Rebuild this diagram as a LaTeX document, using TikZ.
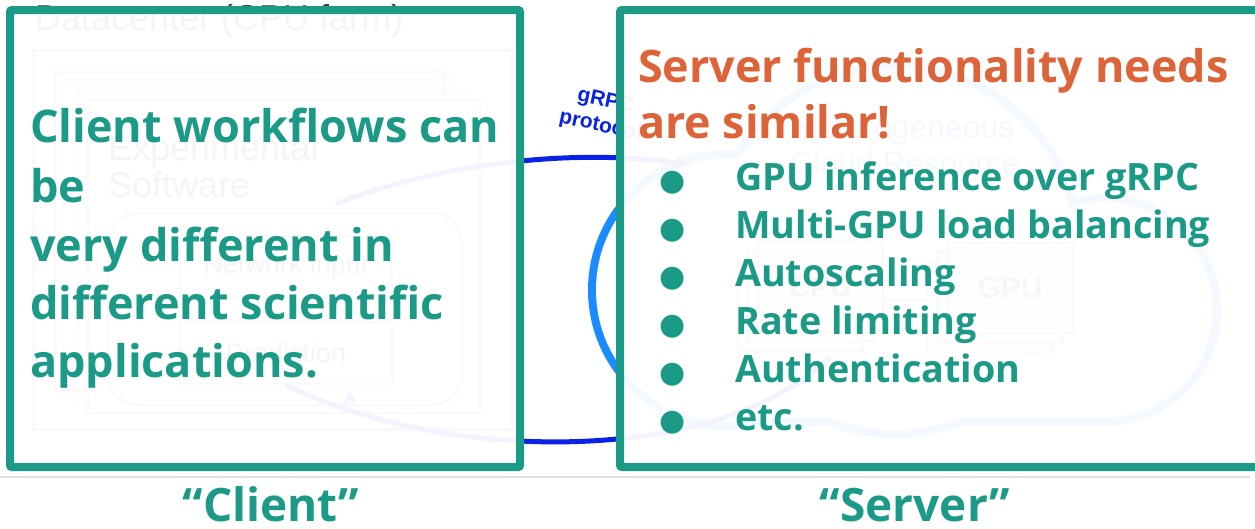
\documentclass[tikz,border=0pt]{standalone}
\usepackage{fontspec}
\setmainfont{Open Sans}
\newfontfamily\helv{Liberation Sans}
\newfontfamily\symf{DejaVu Sans}
\usetikzlibrary{arrows.meta}
\definecolor{tealc}{HTML}{1B9A87}
\definecolor{orangec}{HTML}{DD6438}
\definecolor{dkblue}{HTML}{0A22E6}
\definecolor{ltblue}{HTML}{1A8CFF}
\definecolor{pinkc}{HTML}{E08080}
\begin{document}
\begin{tikzpicture}[x=1pt,y=-1pt,
  bgtxt/.style={inner sep=0pt, text=black!75, font=\helv\fontsize{36}{36}\selectfont},
  smallbox/.style={draw=black!45, line width=2pt, fill=white, minimum width=212pt, minimum height=62pt, inner sep=0pt, font=\helv\fontsize{27}{27}\selectfont, text=black!75},
  chip/.style={draw=pinkc, line width=2pt, fill=red!6, minimum width=125pt, minimum height=90pt, inner sep=0pt},
  chiptxt/.style={font=\helv\bfseries\fontsize{30}{30}\selectfont, text=pinkc!70!black},
  panel/.style={draw=tealc, line width=8pt, fill=white, fill opacity=0.95, rounded corners=2pt, inner sep=0pt},
  clienttxt/.style={anchor=base west, inner sep=0pt, text=tealc, font=\bfseries\fontsize{45}{45}\selectfont},
  headtxt/.style={anchor=base west, inner sep=0pt, text=orangec, font=\bfseries\fontsize{44.9}{44.9}\selectfont},
  itemtxt/.style={anchor=base west, inner sep=0pt, text=tealc, font=\bfseries\fontsize{37.7}{37.7}\selectfont},
  dot/.style={anchor=base, inner sep=0pt, text=tealc, font=\symf\fontsize{30}{30}\selectfont},
  caption/.style={anchor=base, inner sep=0pt, text=tealc, font=\bfseries\fontsize{46}{46}\selectfont}]
\useasboundingbox (0,0) rectangle (1255,528);
\fill[white] (0,0) rectangle (1255,528);

% ---- client side sketch: datacenter with experimental software
\node[bgtxt, anchor=base west] (dctitle) at (35,30) {Datacenter (CPU farm)};
\draw[black!40, line width=3pt] (33,50) rectangle (512,429);
\draw[pinkc, line width=2pt] (55,72) rectangle (445,390);
\draw[pinkc, line width=2pt, dotted] (63,80) rectangle (455,398);
\draw[pinkc, line width=2pt, dotted] (78,90) rectangle (468,405);
\draw[pinkc, line width=2pt, fill=white] (88,100) rectangle (480,413);
\node[bgtxt, anchor=base west] (exptxt1) at (108,160) {Experimental};
\node[bgtxt, anchor=base west] (exptxt2) at (108,197) {Software};
\draw[black!40, line width=2pt, rounded corners=30pt] (108,213) rectangle (462,405);
\node[smallbox] (netin) at (286,267) {Network input};
\node[smallbox] (pred) at (286,353) {Prediction};

% ---- server side sketch: cloud with CPU and GPU
\begin{scope}
  \draw[ltblue, line width=16pt]
    (728,290) circle[radius=132pt]
    (895,250) circle[radius=180pt]
    (1105,310) circle[radius=108pt]
    (728,290) rectangle (1105,418);
  \fill[white]
    (728,290) circle[radius=132pt]
    (895,250) circle[radius=180pt]
    (1105,310) circle[radius=108pt]
    (728,290) rectangle (1105,418);
\end{scope}
\node[font=\helv\fontsize{32}{36}\selectfont, text=ltblue, align=center] (cloudtxt) at (905,146) {Heterogeneous\\Cloud Resource};
\node[chip] (cpu3) at (800,306) {};
\node[chip] (cpu2) at (810,296) {};
\node[chip] (cpu1) at (820,287) {};
\node[chiptxt] (cputxt) at (cpu1) {CPU};
\node[chip] (gpu3) at (990,307) {};
\node[chip] (gpu2) at (1000,297) {};
\node[chip] (gpu1) at (1010,288) {};
\node[chiptxt] (gputxt) at (gpu1) {GPU};
\draw[pinkc, line width=2pt] (cpu1.east |- 0,280) -- (gpu3.west |- 0,280);
\draw[pinkc, line width=2pt] (cpu1.east |- 0,300) -- (gpu3.west |- 0,300);

% ---- gRPC link between the two sides
\coordinate (reqend) at (690,165);
\coordinate (respstart) at (830,357);
\draw[dkblue, line width=5pt, -{Stealth[length=14pt,width=12pt]}]
  (netin.north east) ++(-57,-31) .. controls (420,170) and (560,145) .. (reqend);
\draw[dkblue, line width=5pt, -{Stealth[length=14pt,width=12pt]}]
  (respstart) .. controls (720,465) and (450,465) .. (pred.south) ++(64,5);
\node[text=dkblue, font=\helv\bfseries\fontsize{21}{25}\selectfont, align=center, rotate=-12, inner sep=0pt] (grpc) at (603,114) {gRPC\\protocol};

% ---- overlay panels
\node[panel, minimum width=510pt, minimum height=457pt] (client) at (265,238.5) {};
\node[panel, minimum width=660pt, minimum height=457pt] (server) at (950,238.5) {};

% ---- client panel text
\node[clienttxt] (c1) at (30,142) {Client workflows can};
\node[clienttxt] (c2) at (30,202) {be};
\node[clienttxt] (c3) at (30,261) {very different in};
\node[clienttxt] (c4) at (30,319) {different scientific};
\node[clienttxt] (c5) at (30,377) {applications.};

% ---- server panel text
\node[headtxt] (h1) at (638,82) {Server functionality needs};
\node[headtxt] (h2) at (638,138) {are similar!};
\foreach \y/\t [count=\i] in {190/GPU inference over gRPC, 238/Multi-GPU load balancing, 286/Autoscaling, 334/Rate limiting, 382/Authentication, 430/etc.}{
  \node[dot] (b\i) at (673,\y) {●};
  \node[itemtxt] (s\i) at (735,\y) {\t};
}

% ---- captions
\coordinate (sepL) at (0,477);
\coordinate (sepR) at (1250,477);
\draw[black!12, line width=1.5pt] (sepL) -- (sepR);
\node[caption] (clientcap) at (271,521) {“Client”};
\node[caption] (servercap) at (915,521) {“Server”};
\end{tikzpicture}
\end{document}
